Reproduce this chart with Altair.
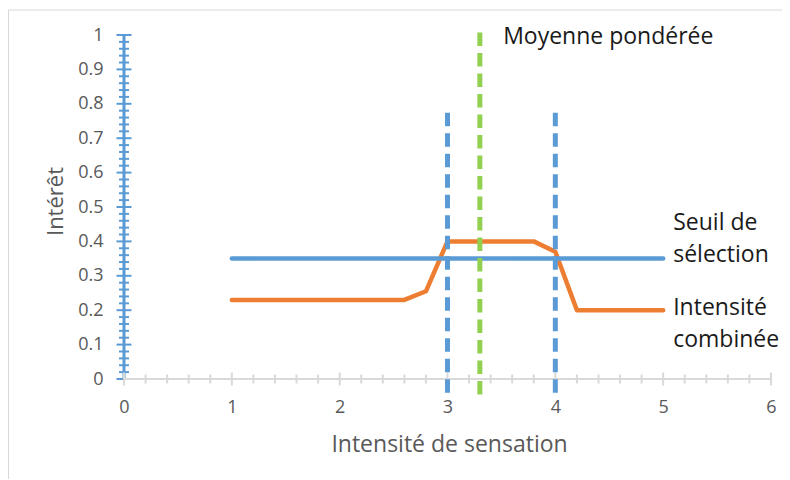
import altair as alt
import numpy as np
import pandas as pd

# ---- data ----
intens_x = [1.0, 1.2, 1.4, 1.6, 1.8, 2.0, 2.2, 2.4, 2.6, 2.8, 3.0,
            3.2, 3.4, 3.6, 3.8, 4.0, 4.2, 4.4, 4.6, 4.8, 5.0]
intens_y = [0.23, 0.23, 0.23, 0.23, 0.23, 0.23, 0.23, 0.23, 0.23, 0.255, 0.40,
            0.40, 0.40, 0.40, 0.40, 0.37, 0.20, 0.20, 0.20, 0.20, 0.20]

seuil_x = [1.0, 5.0]
seuil_y = [0.35, 0.35]

bornes_x = [3.0, 4.0]
bornes_bas = [-0.04, -0.04]
bornes_haut = [0.775, 0.775]

moyenne_x = [3.3]
moyenne_bas = [-0.045]
moyenne_haut = [1.01]

x_ticks = [0, 1, 2, 3, 4, 5, 6]
y_ticks = [0, 0.1, 0.2, 0.3, 0.4, 0.5, 0.6, 0.7, 0.8, 0.9, 1.0]

label_text = ["Moyenne pondérée", "Seuil de\nsélection", "Intensité\ncombinée"]
label_x = [3.516, 5.093, 5.093]
label_y = [0.974, 0.433, 0.186]

W, H = 647, 344
FONT = "Open Sans"
BLUE = "#5B9BD5"
ORANGE = "#ED7D31"
GREEN = "#92D050"
GRAY = "#D9D9D9"
TXT = "#595959"

xs = alt.Scale(domain=[0, 6], nice=False, zero=False)
ys = alt.Scale(domain=[0, 1], nice=False, zero=False)

x_axis = alt.Axis(
    values=x_ticks, format="d", grid=False, domain=False, ticks=False, tickSize=0,
    labelFlush=False, labelOverlap=False,
    labelPadding=19, labelBaseline="top", labelFontSize=18, labelColor=TXT, labelFont=FONT,
    title="Intensité de sensation", titleFont=FONT, titleFontSize=23, titleFontWeight="normal",
    titleColor=TXT, titleX=325, titleY=72, titleBaseline="alphabetic", titleAnchor="middle",
    titleAlign="center")
y_axis = alt.Axis(
    values=y_ticks, format=".1~f", grid=False, domain=False, ticks=False, tickSize=0,
    labelFlush=False, labelOverlap=False,
    labelPadding=21, labelFontSize=18, labelColor=TXT, labelFont=FONT,
    title="Intérêt", titleFont=FONT, titleFontSize=22, titleFontWeight="normal",
    titleColor=TXT, titleX=-69, titleY=166, titleAngle=-90, titleBaseline="middle",
    titleAlign="center")


def X(f):
    return alt.X(f, type="quantitative", scale=xs, axis=x_axis)


def Y(f):
    return alt.Y(f, type="quantitative", scale=ys, axis=y_axis)


# minor tick positions
x_minor = [v for v in np.round(np.arange(0, 6.0001, 0.2), 2) if abs(v - round(v)) > 1e-6]
y_minor = [v for v in np.round(np.arange(0, 1.0001, 0.02), 2) if abs(v * 10 - round(v * 10)) > 1e-6]

df_int = pd.DataFrame({"x": intens_x, "y": intens_y})
df_seuil = pd.DataFrame({"x": seuil_x, "y": seuil_y})
df_bornes = pd.DataFrame({"x": bornes_x, "y": bornes_bas, "y2": bornes_haut})
df_moy = pd.DataFrame({"x": moyenne_x, "y": moyenne_bas, "y2": moyenne_haut})
df_lab = pd.DataFrame({"x": label_x, "y": label_y, "t": label_text})
one = pd.DataFrame({"a": [0]})

# invisible layer that carries both axes
axes = alt.Chart(pd.DataFrame({"x": [0, 6], "y": [0, 1]})).mark_point(opacity=0).encode(
    x=X("x"), y=Y("y"))

# blue vertical axis at x=0 with ticks
y_axis_line = alt.Chart(one).mark_rule(color=BLUE, strokeWidth=3).encode(
    x=alt.value(0), y=alt.value(0), y2=alt.value(H))
y_major_t = alt.Chart(pd.DataFrame({"y": y_ticks})).mark_rule(color=BLUE, strokeWidth=2).encode(
    y=Y("y"), x=alt.value(-7.5), x2=alt.value(7.5))
y_minor_t = alt.Chart(pd.DataFrame({"y": y_minor})).mark_rule(color=BLUE, strokeWidth=2).encode(
    y=Y("y"), x=alt.value(-5), x2=alt.value(5))

# gray horizontal axis with ticks
x_axis_line = alt.Chart(one).mark_rule(color=GRAY, strokeWidth=2).encode(
    y=alt.value(H), x=alt.value(0), x2=alt.value(W))
x_major_t = alt.Chart(pd.DataFrame({"x": x_ticks})).mark_rule(color=GRAY, strokeWidth=2).encode(
    x=X("x"), y=alt.value(H - 6.5), y2=alt.value(H + 6.5))
x_minor_t = alt.Chart(pd.DataFrame({"x": x_minor})).mark_rule(color=GRAY, strokeWidth=2).encode(
    x=X("x"), y=alt.value(H - 4.5), y2=alt.value(H + 4.5))

# chart-area border (top and left visible)
border_top = alt.Chart(one).mark_rule(color=GRAY, strokeWidth=1).encode(
    y=alt.value(-25), x=alt.value(-115.5), x2=alt.value(W + 20))
border_left = alt.Chart(one).mark_rule(color=GRAY, strokeWidth=1).encode(
    x=alt.value(-115.5), y=alt.value(-25), y2=alt.value(H + 120))

orange = alt.Chart(df_int).mark_line(color=ORANGE, strokeWidth=4.5, strokeJoin="round",
                                      strokeCap="round").encode(x=X("x"), y=Y("y"))
seuil = alt.Chart(df_seuil).mark_line(color=BLUE, strokeWidth=4.5, strokeCap="round").encode(
    x=X("x"), y=Y("y"))
bornes = alt.Chart(df_bornes).mark_rule(color=BLUE, strokeWidth=5, strokeDash=[13.5, 7]).encode(
    x=X("x"), y=Y("y"), y2="y2:Q")
moyenne = alt.Chart(df_moy).mark_rule(color=GREEN, strokeWidth=5, strokeDash=[13.5, 7]).encode(
    x=X("x"), y=Y("y"), y2="y2:Q")

labels = alt.Chart(df_lab).mark_text(align="left", baseline="alphabetic", font=FONT,
                                     fontSize=23, lineBreak="\n", lineHeight=32,
                                     color="#1a1a1a").encode(
    x=X("x"), y=Y("y"), text="t:N")

chart = alt.layer(
    axes, border_top, border_left,
    y_axis_line, y_major_t, y_minor_t,
    x_axis_line, x_major_t, x_minor_t,
    orange, seuil, bornes, moyenne, labels,
).properties(
    width=W, height=H,
    autosize=alt.AutoSizeParams(type="none"),
    padding={"left": 116, "top": 27, "right": 11, "bottom": 100},
    background="white",
).configure_view(stroke=None)

chart.save("out.html", embed_options={"renderer": "svg", "actions": False})
